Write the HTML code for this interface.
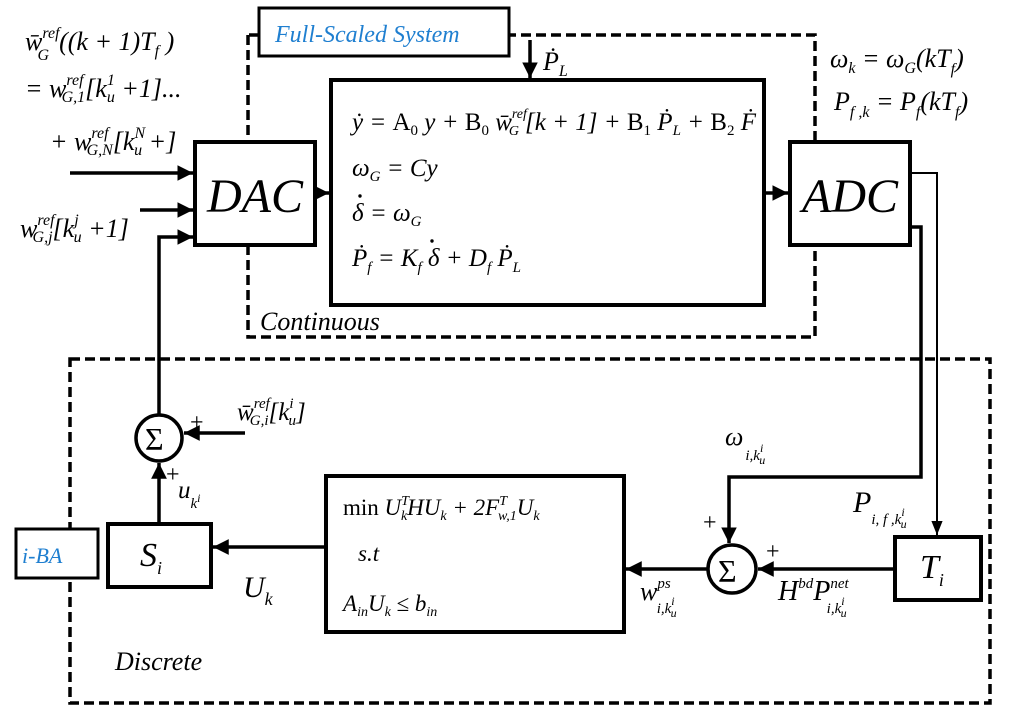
<!DOCTYPE html>
<html><head><meta charset="utf-8"><style>
body{margin:0;background:#fff}
svg{display:block}
text{font-family:"Liberation Serif",serif;font-style:italic;fill:#000}
.n{font-style:normal}
.b{fill:#1f7fd0}
</style></head><body>
<svg width="1024" height="723" viewBox="0 0 1024 723" xmlns="http://www.w3.org/2000/svg">
<defs><marker id="a" viewBox="0 0 10 10" refX="10" refY="5" markerWidth="4.5" markerHeight="4.5" orient="auto"><path d="M0,0L10,5L0,10z" fill="#000"/></marker>
<marker id="s" viewBox="0 0 10 10" refX="10" refY="5" markerWidth="7" markerHeight="7" orient="auto"><path d="M0,1L10,5L0,9z" fill="#000"/></marker></defs>
<g fill="none" stroke="#000">
<path d="M248,35 V337 H815 V35 H509 M259,35 H248" stroke-width="3.5" stroke-dasharray="10,5"/>
<rect x="70" y="359" width="920" height="344" stroke-width="3.5" stroke-dasharray="10,5"/>
<rect x="259" y="8" width="250" height="48" fill="#fff" stroke-width="3"/>
<rect x="195" y="142" width="120" height="103" fill="#fff" stroke-width="4"/>
<rect x="331" y="80" width="433" height="225" fill="#fff" stroke-width="4"/>
<rect x="790" y="142" width="120" height="103" fill="#fff" stroke-width="4"/>
<rect x="16" y="529" width="82" height="49" fill="#fff" stroke-width="3"/>
<rect x="108" y="524" width="103" height="63" fill="#fff" stroke-width="4"/>
<rect x="326" y="476" width="298" height="156" fill="#fff" stroke-width="4"/>
<rect x="895" y="537" width="86" height="63" fill="#fff" stroke-width="4"/>
<circle cx="159" cy="438" r="23" fill="#fff" stroke-width="3.5"/>
<circle cx="732" cy="569" r="24" fill="#fff" stroke-width="3.5"/>
<g stroke-width="3.5">
<path d="M70,173 H193" marker-end="url(#a)"/>
<path d="M140,210 H193" marker-end="url(#a)"/>
<path d="M159,415 V237 H193" marker-end="url(#a)"/>
<path d="M315,193 H329" marker-end="url(#a)"/>
<path d="M764,193 H788" marker-end="url(#a)"/>
<path d="M530,40 V78" marker-end="url(#a)"/>
<path d="M245,433 H184" marker-end="url(#a)"/>
<path d="M159,524 V463" marker-end="url(#a)"/>
<path d="M326,547 H213" marker-end="url(#a)"/>
<path d="M708,569 H626" marker-end="url(#a)"/>
<path d="M895,569 H758" marker-end="url(#a)"/>
<path d="M910,227 H921 V477 H729 V543" marker-end="url(#a)"/>
</g>
<path d="M910,173 H937 V535" stroke-width="2" marker-end="url(#s)"/>
</g>
<text x="275" y="42" font-size="24" class="b">Full-Scaled System</text>
<text x="207" y="212" font-size="48">DAC</text>
<text x="802" y="212" font-size="48">ADC</text>
<text x="22" y="563" font-size="22" class="b">i-BA</text>
<text x="140" y="566" font-size="34">S<tspan font-size="18" dy="8">i</tspan></text>
<text x="920" y="578" font-size="34">T<tspan font-size="18" dy="8">i</tspan></text>
<text x="145" y="450" font-size="32" class="n">Σ</text>
<text x="718" y="582" font-size="32" class="n">Σ</text>
<text x="260" y="330" font-size="26">Continuous</text>
<text x="115" y="670" font-size="26">Discrete</text>
<text x="543" y="70" font-size="26">Ṗ<tspan font-size="16" dy="6">L</tspan></text>
<text x="25" y="50" font-size="26">w̄<tspan font-size="16" dy="-12">ref</tspan><tspan font-size="16" dx="-22" dy="22">G</tspan><tspan dy="-10" dx="10">((k + 1)T</tspan><tspan font-size="16" dy="6">f</tspan><tspan dy="-6"> )</tspan></text>
<text x="25" y="97" font-size="26">= w<tspan font-size="16" dy="-12">ref</tspan><tspan font-size="16" dx="-22" dy="17">G,1</tspan><tspan dy="-5">[k</tspan><tspan font-size="16" dy="-12">1</tspan><tspan font-size="16" dx="-8" dy="17">u</tspan><tspan dy="-5"> +1]...</tspan></text>
<text x="50" y="150" font-size="26">+ w<tspan font-size="16" dy="-12">ref</tspan><tspan font-size="16" dx="-22" dy="17">G,N</tspan><tspan dy="-5">[k</tspan><tspan font-size="16" dy="-12">N</tspan><tspan font-size="16" dx="-11" dy="17">u</tspan><tspan dy="-5"> +]</tspan></text>
<text x="20" y="237" font-size="26">w<tspan font-size="16" dy="-12">ref</tspan><tspan font-size="16" dx="-22" dy="17">G,j</tspan><tspan dy="-5">[k</tspan><tspan font-size="16" dy="-12">j</tspan><tspan font-size="16" dx="-5" dy="17">u</tspan><tspan dy="-5"> +1]</tspan></text>
<text x="352" y="130" font-size="25">ẏ = <tspan class="n">A</tspan><tspan font-size="15" class="n" dy="5">0</tspan><tspan dy="-5"> y + </tspan><tspan class="n">B</tspan><tspan font-size="15" class="n" dy="5">0</tspan><tspan dy="-5"> w̄</tspan><tspan font-size="14" dy="-12">ref</tspan><tspan font-size="14" dx="-18" dy="17">G</tspan><tspan dy="-5" dx="6">[k + 1] + </tspan><tspan class="n">B</tspan><tspan font-size="15" class="n" dy="5">1</tspan><tspan dy="-5"> Ṗ</tspan><tspan font-size="15" dy="5">L</tspan><tspan dy="-5"> + </tspan><tspan class="n">B</tspan><tspan font-size="15" class="n" dy="5">2</tspan><tspan dy="-5"> Ḟ</tspan></text>
<text x="352" y="176" font-size="25">ω<tspan font-size="15" dy="5">G</tspan><tspan dy="-5"> = Cy</tspan></text>
<text x="352" y="221" font-size="25">δ = ω<tspan font-size="15" dy="5">G</tspan></text>
<circle cx="360" cy="196" r="1.7" fill="#000"/>
<text x="352" y="266" font-size="25">Ṗ<tspan font-size="15" dy="6">f</tspan><tspan dy="-6"> = K</tspan><tspan font-size="15" dy="6">f</tspan><tspan dy="-6"> δ + D</tspan><tspan font-size="15" dy="6">f</tspan><tspan dy="-6"> Ṗ</tspan><tspan font-size="15" dy="6">L</tspan></text>
<circle cx="432" cy="241" r="1.7" fill="#000"/>
<text x="830" y="67" font-size="26">ω<tspan font-size="16" dy="6">k</tspan><tspan dy="-6"> = ω</tspan><tspan font-size="16" dy="6">G</tspan><tspan dy="-6">(kT</tspan><tspan font-size="16" dy="7">f</tspan><tspan dy="-7">)</tspan></text>
<text x="834" y="110" font-size="26">P<tspan font-size="16" dy="7">f ,k</tspan><tspan dy="-7"> = P</tspan><tspan font-size="16" dy="7">f</tspan><tspan dy="-7">(kT</tspan><tspan font-size="16" dy="7">f</tspan><tspan dy="-7">)</tspan></text>
<text x="237" y="420" font-size="25">w̄<tspan font-size="15" dy="-12">ref</tspan><tspan font-size="15" dx="-20" dy="17">G,i</tspan><tspan dy="-5">[k</tspan><tspan font-size="15" dy="-12">i</tspan><tspan font-size="15" dx="-5" dy="17">u</tspan><tspan dy="-5">]</tspan></text>
<text x="190" y="430" font-size="24" class="n">+</text>
<text x="166" y="482" font-size="24" class="n">+</text>
<text x="178" y="498" font-size="25">u<tspan font-size="15" dy="10">k</tspan><tspan font-size="12" dy="-6">i</tspan></text>
<text x="243" y="597" font-size="30">U<tspan font-size="18" dy="8">k</tspan></text>
<text x="343" y="515" font-size="23"><tspan class="n">min  </tspan>U<tspan font-size="14" dy="-10">T</tspan><tspan font-size="14" dx="-8" dy="15">k</tspan><tspan dy="-5">HU</tspan><tspan font-size="14" dy="5">k</tspan><tspan dy="-5"> + 2F</tspan><tspan font-size="14" dy="-10">T</tspan><tspan font-size="14" dx="-8" dy="15">w,1</tspan><tspan dy="-5">U</tspan><tspan font-size="14" dy="5">k</tspan></text>
<text x="358" y="561" font-size="23">s.t</text>
<text x="343" y="611" font-size="23">A<tspan font-size="14" dy="5">in</tspan><tspan dy="-5">U</tspan><tspan font-size="14" dy="5">k</tspan><tspan dy="-5"> ≤ b</tspan><tspan font-size="14" dy="5">in</tspan></text>
<text x="725" y="445" font-size="26">ω<tspan font-size="15" dx="2" dy="15">i,k</tspan><tspan font-size="12" dy="-8">i</tspan><tspan font-size="12" dx="-4" dy="12">u</tspan></text>
<text x="703" y="530" font-size="24" class="n">+</text>
<text x="766" y="559" font-size="24" class="n">+</text>
<text x="640" y="600" font-size="26">w<tspan font-size="15" dy="-12">ps</tspan><tspan font-size="15" dx="-14" dy="25">i,k</tspan><tspan font-size="12" dy="-8">i</tspan><tspan font-size="12" dx="-4" dy="12">u</tspan></text>
<text x="778" y="600" font-size="28">H<tspan font-size="15" dy="-12">bd</tspan><tspan dy="12">P</tspan><tspan font-size="15" dy="-12">net</tspan><tspan font-size="15" dx="-22" dy="25">i,k</tspan><tspan font-size="12" dy="-8">i</tspan><tspan font-size="12" dx="-4" dy="12">u</tspan></text>
<text x="853" y="512" font-size="30">P<tspan font-size="15" dy="12">i, f ,k</tspan><tspan font-size="12" dy="-8">i</tspan><tspan font-size="12" dx="-4" dy="12">u</tspan></text>
</svg>
</body></html>
